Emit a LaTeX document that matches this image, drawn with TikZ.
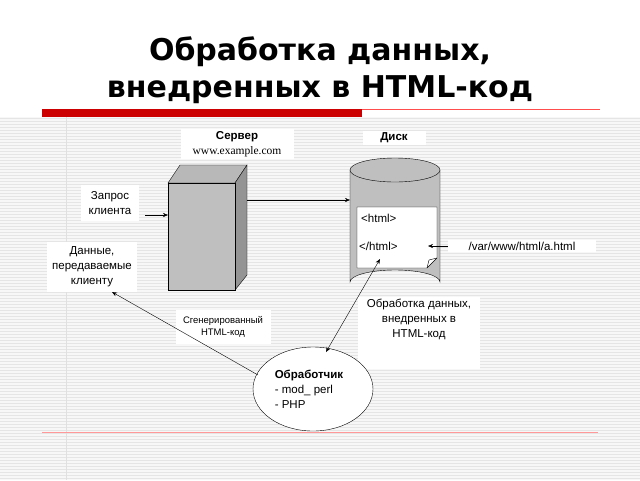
\documentclass[tikz,border=0pt]{standalone}
\usepackage{fontspec}
\setmainfont{Liberation Sans}
\newfontfamily\serifont{Liberation Serif}
\newfontfamily\titlefont{DejaVu Sans}
\usetikzlibrary{arrows.meta}
\begin{document}
\begin{tikzpicture}[x=1pt, y=-1pt,
    label/.style = {fill = white, align = center, inner sep = 2pt, font = \fontsize{11.5}{15}\selectfont},
    arr/.style = {-{Stealth[length=5pt, width=4pt]}, thin},
    baseline=(current bounding box.center)]
  \useasboundingbox (0,0) rectangle (640,480);
  % background
  \fill[white] (0,0) rectangle (640,480);
  \fill[black!3] (0,117) rectangle (640,480);
  \foreach \y in {118,121,...,480}
    \draw[black!10, line width=0.6pt] (0,\y) -- (640,\y);
  \draw[black!12] (66,117) -- (66,480);
  % title
  \node[font = \titlefont\bfseries\fontsize{30}{37}\selectfont, align = center] (title) at (320,70)
    {Обработка данных,\\внедренных в HTML-код};
  \fill[red!80!black] (42,109) rectangle (362,117);
  \draw[red!70, thin] (362,109) -- (600,109);
  \draw[red!40, thin] (42,432) -- (598,432);
  % server
  \draw[fill = black!28] (168,183) -- (180,165) -- (247,165) -- (235,183) -- cycle;
  \draw[fill = black!42] (235,183) -- (247,165) -- (247,275) -- (235,290) -- cycle;
  \draw[fill = black!25] (168,183) rectangle (235,290);
  \coordinate (srvin) at (168,215);
  \coordinate (srvout) at (247,200);
  % disk
  \draw[fill = black!25] (350,170) -- (350,282) arc[start angle=180, end angle=360, x radius=45, y radius=12]
    -- (440,170);
  \draw[fill = black!25] (395,170) ellipse[x radius=45, y radius=12];
  \coordinate (diskin) at (350,200);
  % document
  \draw[fill = white] (357,207) -- (437,207) -- (437,258) -- (427,268) -- (357,268) -- cycle;
  \draw (427,268) -- (429,260) -- (437,258);
  \node[anchor = west, font = \fontsize{11.5}{14}\selectfont, inner sep = 0pt] (open) at (361,218) {<html>};
  \node[anchor = west, font = \fontsize{11.5}{14}\selectfont, inner sep = 0pt] (close) at (359,246) {</html>};
  \coordinate (docright) at (428,246);
  \coordinate (docbot) at (380,259);
  % labels
  \node[label, minimum width = 113pt] (server) at (237,144)
    {\textbf{Сервер}\\{\serifont www.example.com}};
  \node[label, minimum width = 63pt] (disk) at (394,138) {\textbf{Диск}};
  \node[label, minimum width = 58pt, minimum height = 36pt] (request) at (110,203) {Запрос\\клиента};
  \node[label, minimum width = 90pt, minimum height = 50pt] (data) at (92,267)
    {Данные,\\передаваемые\\клиенту};
  \node[label, minimum width = 148pt] (path) at (522,246) {/var/www/html/a.html};
  \node[label, font = \fontsize{9.5}{12}\selectfont, minimum width = 95pt, minimum height = 34pt] (gen) at (223,327)
    {Сгенерированный\\HTML-код};
  \node[label, anchor = north, minimum width = 122pt, minimum height = 64pt] (proc) at (419,297)
    {Обработка данных,\\внедренных в\\HTML-код\\[14pt]};
  % handler
  \draw[fill = white] (313,389) ellipse[x radius=60, y radius=42];
  \node[align = left, font = \fontsize{11.5}{15}\selectfont] (handler) at (309,389)
    {\textbf{Обработчик}\\- mod\_ perl\\- PHP};
  \coordinate (hleft) at (258,375);
  \coordinate (htop) at (326,352);
  \coordinate (datain) at (112,292);
  % connectors
  \draw[arr] (request.east) ++(6,12) coordinate (reqend) -- (srvin);
  \draw[arr] (srvout) -- (diskin);
  \draw[arr] (path.west) -- (docright);
  \draw[arr] (hleft) -- (datain);
  \draw[{Stealth[length=5pt, width=4pt]}-{Stealth[length=5pt, width=4pt]}, thin] (docbot) -- (htop);
\end{tikzpicture}
\end{document}
